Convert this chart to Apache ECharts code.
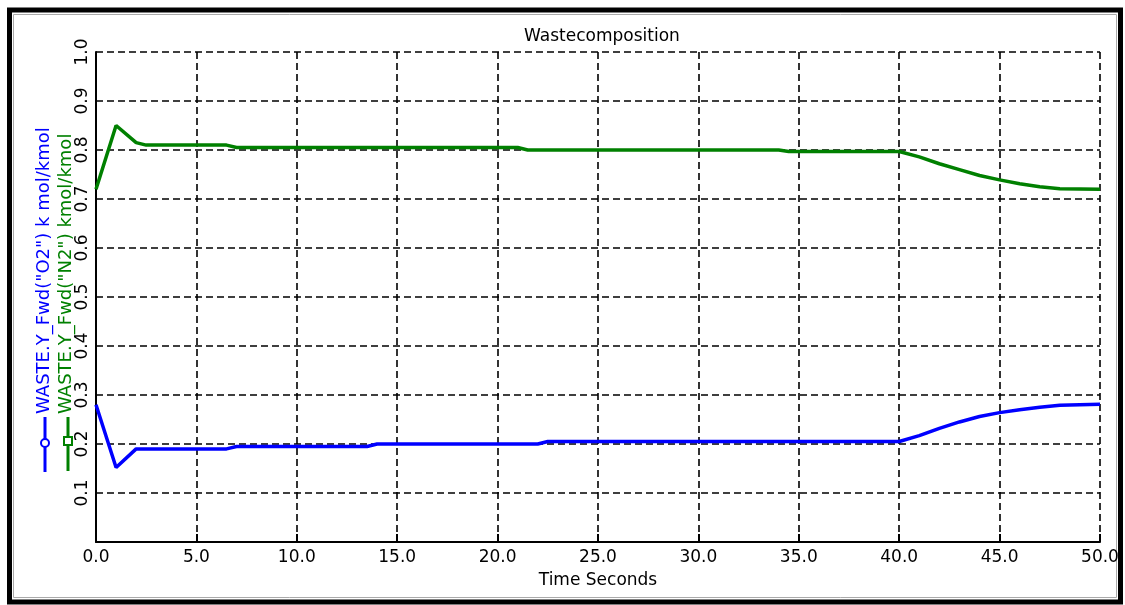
<!DOCTYPE html>
<html>
<head>
<meta charset="utf-8">
<script src="https://cdn.jsdelivr.net/npm/echarts@6/dist/echarts.min.js"></script>
<style>
  html, body { margin: 0; padding: 0; background: #fff; }
  #chart { width: 1125px; height: 605px; }
</style>
</head>
<body>
<div id="chart"></div>
<script>
// data
var chartTitle = 'Wastecomposition';
var xName = 'Time Seconds';
var seriesNames = ['WASTE.Y_Fwd("O2") k mol/kmol', 'WASTE.Y_Fwd("N2") kmol/kmol'];

var timeO2 = [0, 1, 2, 6.5, 7, 13.5, 14, 22, 22.5, 40, 41, 42, 43, 44, 45, 46, 47, 48, 50];
var o2Values = [0.28, 0.152, 0.19, 0.19, 0.195, 0.195, 0.2, 0.2, 0.205, 0.205, 0.217, 0.232, 0.245, 0.256, 0.264, 0.27, 0.275, 0.279, 0.281];

var timeN2 = [0, 1, 2, 2.5, 6.5, 7, 21, 21.5, 34, 34.5, 40, 41, 42, 43, 44, 45, 46, 47, 48, 50];
var n2Values = [0.72, 0.85, 0.815, 0.81, 0.81, 0.805, 0.805, 0.8, 0.8, 0.797, 0.797, 0.786, 0.772, 0.76, 0.748, 0.739, 0.731, 0.725, 0.721, 0.72];

var colors = ['#0000ff', '#008000'];

function pairs(xs, ys) {
    var out = [];
    for (var i = 0; i < xs.length; i++) out.push([xs[i], ys[i]]);
    return out;
}

var font = '"DejaVu Sans", Verdana, sans-serif';
var dash = [7, 4];

var option = {
    backgroundColor: '#fff',
    animation: false,
    title: {
        text: chartTitle,
        left: 597, top: 23, textAlign: 'center',
        textStyle: { fontSize: 17, fontWeight: 'normal', color: '#000', fontFamily: font }
    },
    grid: { left: 96, right: 25, top: 52, bottom: 63 },
    xAxis: {
        type: 'value', min: 0, max: 50, interval: 5,
        name: xName, nameLocation: 'middle', nameGap: 30,
        nameTextStyle: { fontSize: 17, color: '#000', fontFamily: font },
        axisLine: { lineStyle: { color: '#000', width: 2 } },
        axisTick: { inside: true, length: 8, lineStyle: { color: '#000', width: 2 } },
        axisLabel: { fontSize: 17, color: '#000', fontFamily: font, margin: 7,
            formatter: function (v) { return v.toFixed(1); } },
        splitLine: { show: true, lineStyle: { color: '#000', type: dash, width: 1.6 } }
    },
    yAxis: {
        type: 'value', min: 0, max: 1, interval: 0.1,
        axisLine: { show: true, lineStyle: { color: '#000', width: 2 } },
        axisTick: { show: false },
        axisLabel: { rotate: 90, fontSize: 17, color: '#000', fontFamily: font, margin: 5,
            formatter: function (v) { return v === 0 ? '' : v.toFixed(1); } },
        splitLine: { show: true, lineStyle: { color: '#000', type: dash, width: 1.6 } }
    },
    series: [
        { name: seriesNames[0], type: 'line', data: pairs(timeO2, o2Values), showSymbol: false,
          lineStyle: { color: colors[0], width: 3.5 }, itemStyle: { color: colors[0] } },
        { name: seriesNames[1], type: 'line', data: pairs(timeN2, n2Values), showSymbol: false,
          lineStyle: { color: colors[1], width: 3.5 }, itemStyle: { color: colors[1] } }
    ],
    graphic: [
        // window frame
        { type: 'rect', shape: { x: 9.5, y: 10, width: 1111, height: 592 },
          style: { fill: 'none', stroke: '#000', lineWidth: 5 } },
        { type: 'rect', shape: { x: 13.5, y: 14.5, width: 1103, height: 583 },
          style: { fill: 'none', stroke: '#aaa', lineWidth: 1 } },
        // rotated legend
        { type: 'text', x: 44, y: 414, rotation: Math.PI / 2,
          style: { text: seriesNames[0], fill: colors[0], font: '18px ' + font,
                   textAlign: 'left', textVerticalAlign: 'middle' } },
        { type: 'text', x: 66, y: 414, rotation: Math.PI / 2,
          style: { text: seriesNames[1], fill: colors[1], font: '18px ' + font,
                   textAlign: 'left', textVerticalAlign: 'middle' } },
        { type: 'line', shape: { x1: 45, y1: 417, x2: 45, y2: 472 },
          style: { stroke: colors[0], lineWidth: 3 } },
        { type: 'circle', shape: { cx: 45, cy: 443, r: 4 },
          style: { fill: '#fff', stroke: colors[0], lineWidth: 2 } },
        { type: 'line', shape: { x1: 68, y1: 417, x2: 68, y2: 471 },
          style: { stroke: colors[1], lineWidth: 3 } },
        { type: 'rect', shape: { x: 64, y: 437, width: 8, height: 8 },
          style: { fill: '#fff', stroke: colors[1], lineWidth: 2 } }
    ]
};

var myChart = echarts.init(document.getElementById('chart'));
myChart.setOption(option);
</script>
</body>
</html>
